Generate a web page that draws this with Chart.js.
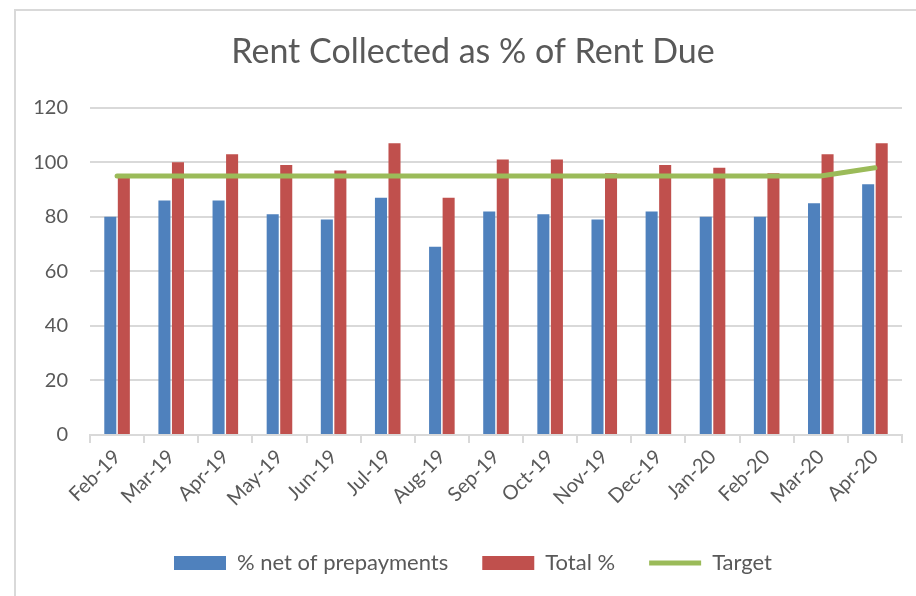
<!DOCTYPE html>
<html>
<head>
<meta charset="utf-8">
<script src="https://cdn.jsdelivr.net/npm/chart.js@4.4.3/dist/chart.umd.min.js"></script>
<style>
  html, body { margin: 0; padding: 0; background: #fff; overflow: hidden; }
  #frame {
    position: absolute; left: 14px; top: 9px; width: 920px; height: 600px;
    border-left: 2px solid #d9d9d9; border-top: 2px solid #d9d9d9;
  }
  #wrap { position: absolute; left: 0; top: 0; width: 940px; height: 596px; }
</style>
</head>
<body>
<div id="frame"></div>
<!-- canvas runs a little past the window on the right, like the cropped frame in the original -->
<div id="wrap"><canvas id="rent-chart" width="940" height="596"></canvas></div>
<script>
// chart data
const months = ["Feb-19", "Mar-19", "Apr-19", "May-19", "Jun-19", "Jul-19", "Aug-19", "Sep-19",
                "Oct-19", "Nov-19", "Dec-19", "Jan-20", "Feb-20", "Mar-20", "Apr-20"];
const netOfPrepayments = [80, 86, 86, 81, 79, 87, 69, 82, 81, 79, 82, 80, 80, 85, 92];
const totalPct = [95, 100, 103, 99, 97, 107, 87, 101, 101, 96, 99, 98, 96, 103, 107];
const target = [95, 95, 95, 95, 95, 95, 95, 95, 95, 95, 95, 95, 95, 95, 98];
const seriesNames = ["% net of prepayments", "Total %", "Target"];

const BLUE = "#4F81BD";
const RED = "#C0504D";
const GREEN = "#9BBB59";
const TEXT = "#595959";
const GRID = "#d9d9d9";
const FONT = "Lato, 'Open Sans', sans-serif";

const ctx = document.getElementById("rent-chart").getContext("2d");

new Chart(ctx, {
  type: "bar",
  data: {
    labels: months,
    datasets: [
      {
        label: seriesNames[0],
        data: netOfPrepayments,
        backgroundColor: BLUE,
        categoryPercentage: 0.5,
        barPercentage: 0.89,
        order: 1,
      },
      {
        label: seriesNames[1],
        data: totalPct,
        backgroundColor: RED,
        categoryPercentage: 0.5,
        barPercentage: 0.89,
        order: 1,
      },
      {
        type: "line",
        label: seriesNames[2],
        data: target,
        borderColor: GREEN,
        backgroundColor: GREEN,
        borderWidth: 5,
        borderCapStyle: "round",
        pointRadius: 0,
        tension: 0,
        order: 0,
      },
    ],
  },
  options: {
    responsive: false,
    animation: false,
    layout: { padding: { left: 20, right: 14, top: 22, bottom: 12 } },
    scales: {
      x: {
        grid: {
          display: true,
          drawOnChartArea: false,
          drawTicks: true,
          tickLength: 8,
          color: GRID,
          lineWidth: 2,
        },
        border: { display: true, color: GRID, width: 2 },
        ticks: {
          color: TEXT,
          font: { family: FONT, size: 20 },
          minRotation: 45,
          maxRotation: 45,
          padding: 2,
        },
        afterFit(scale) { scale.height = 83; },
      },
      y: {
        min: 0,
        max: 120,
        ticks: {
          stepSize: 20,
          color: TEXT,
          font: { family: FONT, size: 20 },
          padding: 22,
        },
        grid: { color: GRID, lineWidth: 2, drawTicks: false },
        border: { display: false },
        afterFit(scale) { scale.width = 70; },
      },
      // empty spacer on the right so the plot ends where the original does
      spacer: {
        type: "linear",
        position: "right",
        display: true,
        grid: { display: false },
        border: { display: false },
        ticks: { display: false },
        afterFit(scale) { scale.width = 24; },
      },
    },
    plugins: {
      title: {
        display: true,
        text: "Rent Collected as % of Rent Due",
        color: TEXT,
        font: { family: FONT, size: 34, weight: "normal" },
        padding: { top: 10, bottom: 35 },
      },
      legend: {
        position: "bottom",
        labels: {
          color: TEXT,
          font: { family: FONT, size: 22 },
          usePointStyle: true,
          pointStyleWidth: 52,
          boxWidth: 52,
          boxHeight: 14,
          padding: 34,
          generateLabels(chart) {
            const styles = ["rect", "rect", "line"];
            const colors = [BLUE, RED, GREEN];
            return seriesNames.map((name, i) => ({
              text: name,
              fillStyle: colors[i],
              strokeStyle: colors[i],
              lineWidth: i === 2 ? 5 : 0,
              pointStyle: styles[i],
              fontColor: TEXT,
              hidden: false,
              datasetIndex: i,
            }));
          },
        },
      },
      tooltip: { enabled: false },
    },
  },
});
</script>
</body>
</html>
